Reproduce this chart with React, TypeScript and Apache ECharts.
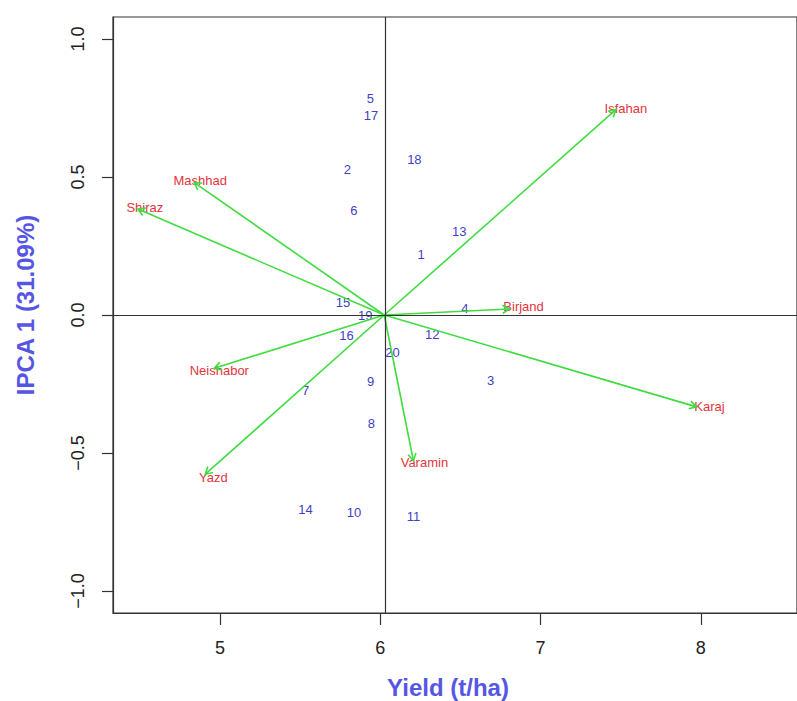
import React, { useEffect, useRef } from "react";
import * as echarts from "echarts";

const envNames = ["Isfahan", "Mashhad", "Shiraz", "Birjand", "Karaj", "Varamin", "Yazd", "Neishabor"];
const envX = [7.47, 4.84, 4.488, 6.807, 7.973, 6.207, 4.909, 4.965];
const envY = [0.744, 0.48, 0.384, 0.022, -0.333, -0.528, -0.577, -0.193];

const genoNames = ["1", "2", "3", "4", "5", "6", "7", "8", "9", "10", "11", "12", "13", "14", "15", "16", "17", "18", "19", "20"];
const genoX = [6.255, 5.795, 6.689, 6.528, 5.938, 5.836, 5.534, 5.944, 5.94, 5.836, 6.207, 6.325, 6.493, 5.534, 5.768, 5.789, 5.942, 6.213, 5.907, 6.076];
const genoY = [0.218, 0.526, -0.236, 0.024, 0.785, 0.378, -0.275, -0.395, -0.242, -0.716, -0.729, -0.069, 0.302, -0.705, 0.046, -0.073, 0.722, 0.562, 0.0, -0.137];

const meanYield = 6.025;
const xTicks = [5, 6, 7, 8];
const yTicks = [-1.0, -0.5, 0.0, 0.5, 1.0];

const xTitle = "Yield (t/ha)";
const yTitle = "IPCA 1 (31.09%)";

// label offsets in px (style only)
const envLabelOffset: number[][] = [
  [10, -1], [6, -2], [7, -2], [14, -2], [13, 0], [11, 2], [8, 3], [5, 2],
];

const GREEN = "#3fdc3f";
const RED = "#e3343c";
const BLUE = "#3f3fc6";
const TITLE_BLUE = "#5656e4";
const FRAME = "#333333";

export default function App() {
  const ref = useRef<HTMLDivElement>(null);
  useEffect(() => {
    if (!ref.current) return;
    const chart = echarts.init(ref.current, undefined, { renderer: "svg" });
    const envData = envNames.map((n, i) => [envX[i], envY[i], i]);
    const genoData = genoNames.map((n, i) => [genoX[i], genoY[i], i]);
    const option: any = {
      animation: false,
      backgroundColor: "#ffffff",
      grid: {
        left: 113,
        top: 17,
        width: 687,
        height: 596,
        show: true,
        borderColor: FRAME,
        borderWidth: 1.2,
        containLabel: false,
      },
      xAxis: {
        type: "value",
        min: 4.333,
        max: 8.6,
        splitLine: { show: false },
        axisLine: { show: true, onZero: false, lineStyle: { color: FRAME, width: 1.2 } },
        axisTick: { show: true, length: 12, customValues: xTicks, lineStyle: { color: FRAME, width: 1.2 } },
        axisLabel: {
          customValues: xTicks,
          margin: 26,
          fontSize: 18,
          fontFamily: "Liberation Sans",
          color: "#222",
          formatter: (v: number) => String(v),
        },
      },
      yAxis: {
        type: "value",
        min: -1.08,
        max: 1.08,
        splitLine: { show: false },
        axisLine: { show: true, onZero: false, lineStyle: { color: FRAME, width: 1.2 } },
        axisTick: { show: true, length: 11, customValues: yTicks, lineStyle: { color: FRAME, width: 1.2 } },
        axisLabel: {
          customValues: yTicks,
          rotate: 90,
          margin: 26,
          fontSize: 18,
          fontFamily: "Liberation Sans",
          color: "#222",
          formatter: (v: number) => (v < 0 ? "\u2212" + Math.abs(v).toFixed(1) : v.toFixed(1)),
        },
      },
      graphic: [
        {
          type: "text",
          x: 448,
          y: 687,
          style: {
            text: xTitle,
            fill: TITLE_BLUE,
            font: 'bold 24px "Liberation Sans"',
            align: "center",
            verticalAlign: "middle",
          },
        },
        {
          type: "text",
          x: 25,
          y: 305,
          rotation: Math.PI / 2,
          style: {
            text: yTitle,
            fill: TITLE_BLUE,
            font: 'bold 24px "Liberation Sans"',
            align: "center",
            verticalAlign: "middle",
          },
        },
      ],
      series: [
        {
          type: "custom",
          name: "genotypes",
          data: genoData,
          renderItem: (params: any, api: any) => {
            const i = api.value(2);
            const p = api.coord([api.value(0), api.value(1)]);
            return {
              type: "text",
              x: p[0],
              y: p[1],
              style: {
                text: genoNames[i],
                fill: BLUE,
                fontSize: 13,
                fontFamily: "Liberation Sans",
                align: "center",
                verticalAlign: "middle",
              },
            };
          },
          markLine: {
            silent: true,
            symbol: "none",
            label: { show: false },
            lineStyle: { color: FRAME, width: 1.2, type: "solid" },
            data: [{ xAxis: meanYield }, { yAxis: 0 }],
          },
        },
        {
          type: "custom",
          name: "envLabels",
          data: envData,
          renderItem: (params: any, api: any) => {
            const i = api.value(2);
            const t = api.coord([api.value(0), api.value(1)]);
            const off = envLabelOffset[i];
            return {
              type: "text",
              x: t[0] + off[0],
              y: t[1] + off[1],
              style: {
                text: envNames[i],
                fill: RED,
                fontSize: 13,
                fontFamily: "Liberation Sans",
                align: "center",
                verticalAlign: "middle",
              },
            };
          },
        },
        {
          type: "custom",
          name: "envArrows",
          data: envData,
          renderItem: (params: any, api: any) => {
            const o = api.coord([meanYield, 0]);
            const t = api.coord([api.value(0), api.value(1)]);
            const ang = Math.atan2(t[1] - o[1], t[0] - o[0]);
            const L = 8;
            const a = Math.PI / 6;
            const h1 = [t[0] - L * Math.cos(ang - a), t[1] - L * Math.sin(ang - a)];
            const h2 = [t[0] - L * Math.cos(ang + a), t[1] - L * Math.sin(ang + a)];
            return {
              type: "group",
              children: [
                {
                  type: "line",
                  shape: { x1: o[0], y1: o[1], x2: t[0], y2: t[1] },
                  style: { stroke: GREEN, lineWidth: 1.6 },
                },
                {
                  type: "polyline",
                  shape: { points: [h1, t, h2] },
                  style: { stroke: GREEN, fill: null, lineWidth: 1.6 },
                },
              ],
            };
          },
        },
      ],
    };
    chart.setOption(option);
    return () => chart.dispose();
  }, []);
  return (
    <div
      ref={ref}
      style={{ position: "fixed", left: 0, top: 0, width: 797, height: 701, background: "#fff" }}
    />
  );
}
